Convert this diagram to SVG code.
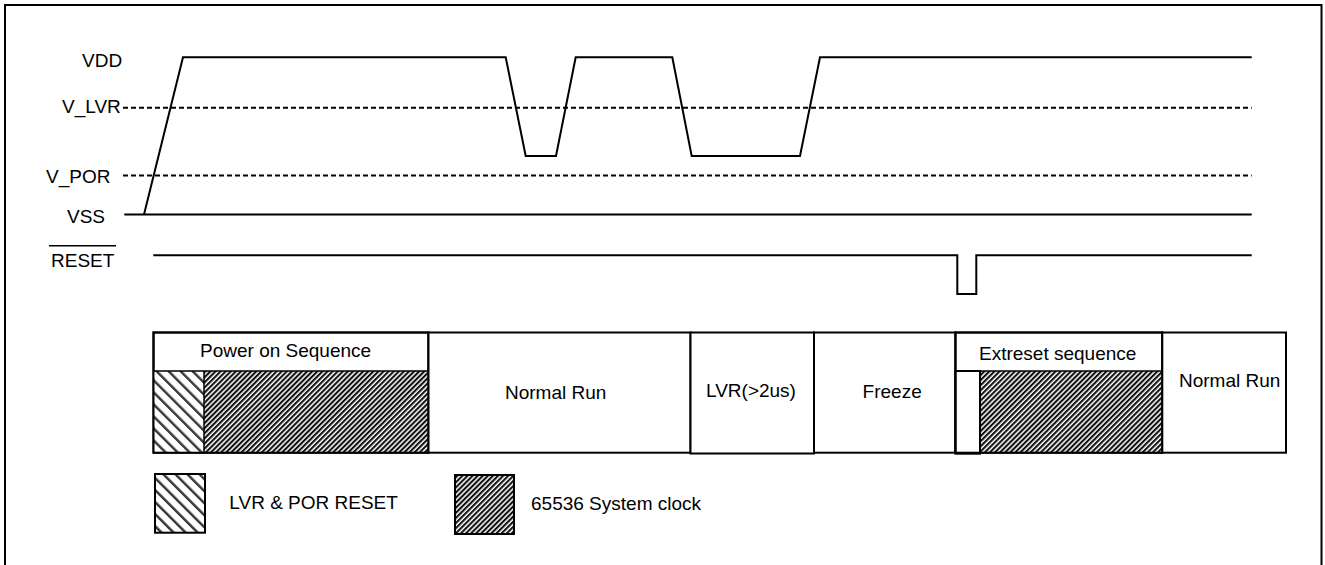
<svg xmlns="http://www.w3.org/2000/svg" width="1325" height="565" viewBox="0 0 1325 565">
  <style>
    .t { font-family: "Liberation Sans", Arial, sans-serif; font-size: 19px; fill: #000; }
    .ln { fill: none; stroke: #000; stroke-width: 2; stroke-linejoin: miter; }
    .dash { fill: none; stroke: #000; stroke-width: 2; stroke-dasharray: 5 3; }
    .box { fill: #fff; stroke: #000; stroke-width: 2; }
    .thin { fill: none; stroke: #000; stroke-width: 1.5; }
  </style>
  <defs>
    <pattern id="sparse" patternUnits="userSpaceOnUse" width="8.5" height="8.5" patternTransform="rotate(-45)">
      <rect width="8.5" height="8.5" fill="#fff"/>
      <rect x="0" y="0" width="2.4" height="8.5" fill="#333"/>
    </pattern>
    <pattern id="dense" patternUnits="userSpaceOnUse" width="3.6" height="3.6" patternTransform="rotate(45)">
      <rect width="3.6" height="3.6" fill="#fff"/>
      <rect x="0" y="0" width="2.1" height="3.6" fill="#111"/>
    </pattern>
  </defs>

  <rect id="frame" x="5" y="5" width="1316.5" height="570" fill="none" stroke="#000" stroke-width="2"/>

  <!-- signal labels -->
  <g id="labels">
    <text class="t" x="82" y="66.5">VDD</text>
    <text class="t" x="62" y="113">V_LVR</text>
    <text class="t" x="46" y="182.5">V_POR</text>
    <text class="t" x="67" y="223">VSS</text>
    <text class="t" x="51" y="267">RESET</text>
    <line x1="49" y1="245.7" x2="116" y2="245.7" stroke="#000" stroke-width="1.5"/>
  </g>

  <!-- waveforms (connectors) -->
  <g id="connectors">
    <line id="lvr-level" class="dash" x1="123" y1="107.7" x2="1251.7" y2="107.7"/>
    <line id="por-level" class="dash" x1="123" y1="175.5" x2="1251.7" y2="175.5"/>
    <line id="vss-line" class="ln" x1="124.3" y1="214.5" x2="1251.7" y2="214.5"/>
    <path id="vdd-wave" class="ln" d="M144,214.5 L183,57.3 L505.7,57.3 L525.7,156 L556,156 L575.7,57.3 L672.3,57.3 L691.7,156 L800,156 L820,57.3 L1251.7,57.3"/>
    <path id="reset-wave" class="ln" d="M153.3,255.3 H957.3 V294 H976.3 V255.3 H1251.7"/>
  </g>

  <!-- state boxes -->
  <g id="power-on">
    <rect class="box" x="153.5" y="332.5" width="275" height="120.2"/>
    <rect x="153.5" y="371" width="50.5" height="81.7" fill="url(#sparse)"/>
    <rect x="204" y="371" width="224.5" height="81.7" fill="url(#dense)"/>
    <line class="thin" x1="153.5" y1="371" x2="428.5" y2="371"/>
    <line class="thin" x1="204" y1="371" x2="204" y2="452.7"/>
    <rect x="153.5" y="332.5" width="275" height="120.2" fill="none" stroke="#000" stroke-width="2"/>
    <text class="t" x="200" y="357.3">Power on Sequence</text>
  </g>
  <g id="normal-run-1">
    <rect class="box" x="428.5" y="332.5" width="262" height="120.2"/>
    <text class="t" x="505" y="398.5">Normal Run</text>
  </g>
  <g id="lvr-2us">
    <rect class="box" x="690.5" y="332.5" width="123.5" height="121"/>
    <text class="t" x="706" y="397">LVR(&gt;2us)</text>
  </g>
  <g id="freeze">
    <rect class="box" x="814" y="332.5" width="141.5" height="120.2"/>
    <text class="t" x="862.6" y="397.5">Freeze</text>
  </g>
  <g id="extreset">
    <rect class="box" x="955.5" y="332.5" width="206.8" height="120.2"/>
    <rect x="980" y="371" width="182.3" height="81.7" fill="url(#dense)"/>
    <line class="thin" x1="955.5" y1="371" x2="1162.3" y2="371"/>
    <rect class="box" x="955.5" y="371" width="24.5" height="82.7"/>
    <rect x="955.5" y="332.5" width="206.8" height="120.2" fill="none" stroke="#000" stroke-width="2"/>
    <text class="t" x="979" y="359.5">Extreset sequence</text>
  </g>
  <g id="normal-run-2">
    <rect class="box" x="1162.3" y="332.5" width="123.7" height="120.2"/>
    <text class="t" x="1179" y="387">Normal Run</text>
  </g>

  <!-- legend -->
  <g id="legend-lvr-por">
    <rect x="155" y="474" width="50" height="58.7" fill="url(#sparse)" stroke="#000" stroke-width="2"/>
    <text class="t" x="229.3" y="509">LVR &amp; POR RESET</text>
  </g>
  <g id="legend-clock">
    <rect x="455" y="475" width="59" height="59" fill="url(#dense)" stroke="#000" stroke-width="2"/>
    <text class="t" x="531" y="510">65536 System clock</text>
  </g>
</svg>
